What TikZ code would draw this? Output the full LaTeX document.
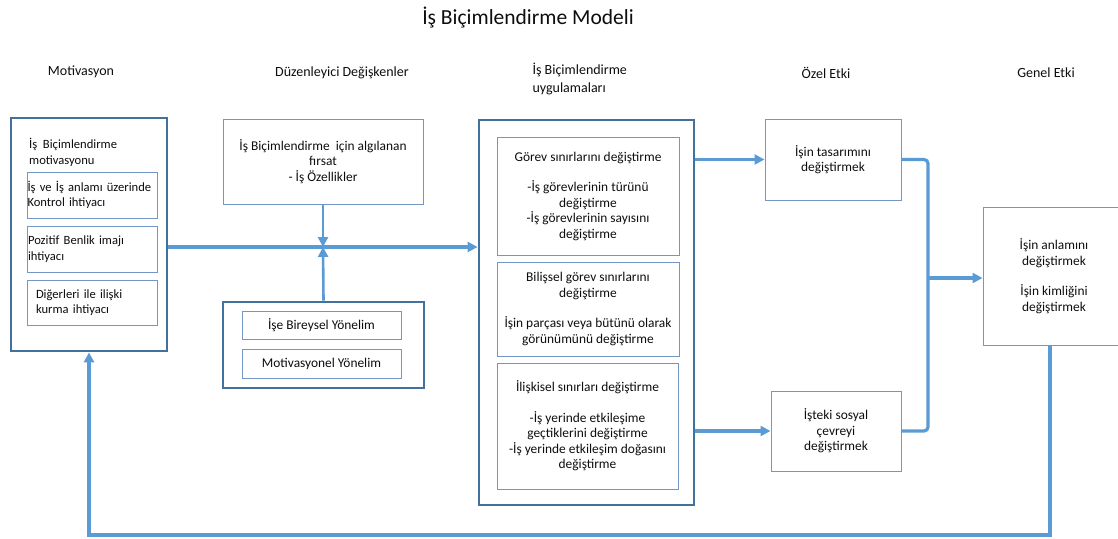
\documentclass[tikz,border=0pt]{standalone}
\usepackage{fontspec}
\setmainfont{Carlito}
\usetikzlibrary{arrows.meta}
\definecolor{boxdark}{HTML}{41719C}
\definecolor{boxlight}{HTML}{7497C8}
\definecolor{linkblue}{HTML}{5B9BD5}
\definecolor{ink}{HTML}{0D0D0D}
\begin{document}
\begin{tikzpicture}[x=1pt,y=-1pt,
  txt/.style={font=\fontsize{13.4}{15.5}\selectfont, text=ink, align=center},
  smalltxt/.style={font=\fontsize{12.6}{15.5}\selectfont, text=ink},
  heading/.style={font=\fontsize{14}{18}\selectfont, text=ink},
  thickbox/.style={draw=boxdark, line width=2.8pt, inner sep=0pt},
  thinbox/.style={draw=boxlight, line width=1pt, inner sep=0pt, txt},
  needbox/.style={thinbox, smalltxt, minimum width=130, align=left},
  conn/.style={draw=linkblue, line width=3.2pt},
  tip/.style={-{Triangle[length=10pt,width=10pt]}}]
\useasboundingbox (0,0) rectangle (1118,538);

% title and column headings
\node[font=\fontsize{21.5}{24}\selectfont, text=ink] (title) at (528,18) {İş Biçimlendirme Modeli};
\node[heading] (hmot) at (81,72) {Motivasyon};
\node[heading] (hmod) at (342,73) {Düzenleyici Değişkenler};
\node[heading, anchor=west, align=left] (happ) at (529,79) {İş Biçimlendirme\\uygulamaları};
\node[heading] (hspec) at (826,73) {Özel Etki};
\node[heading] (hgen) at (1046,73) {Genel Etki};

% motivation column
\node[thickbox, minimum width=156, minimum height=233] (mot) at (89,234.5) {};
\node[smalltxt, align=left, anchor=west, inner sep=0pt] (motlabel) at (29,152.5) {İş\ \ Biçimlendirme\\motivasyonu};
\node[needbox, minimum height=46, text width=129] (need1) at (92,195) {İş ve İş anlamı üzerinde\\Kontrol ihtiyacı};
\node[needbox, minimum height=46, text width=128] (need2) at (92,249) {Pozitif Benlik imajı\\ihtiyacı};
\node[needbox, minimum height=45, text width=112] (need3) at (92,302.5) {Diğerleri ile ilişki\\kurma ihtiyacı};

% moderators
\node[thinbox, minimum width=200, minimum height=85] (opp) at (323,161.5) {İş Biçimlendirme\ \ için algılanan\\fırsat\\- İş Özellikler};
\node[thickbox, minimum width=201, minimum height=86] (orient) at (323.5,345) {};
\node[thinbox, minimum width=159, minimum height=28] (indiv) at (321.5,325) {İşe Bireysel Yönelim};
\node[thinbox, minimum width=159, minimum height=29] (motor) at (321.5,363.5) {Motivasyonel Yönelim};

% crafting practices
\node[thickbox, minimum width=215, minimum height=385] (apps) at (586.5,312.5) {};
\node[thinbox, minimum width=182, minimum height=118] (taskb) at (588,196) {Görev sınırlarını değiştirme\\[15pt]-İş görevlerinin türünü\\değiştirme\\-İş görevlerinin sayısını\\değiştirme};
\node[thinbox, minimum width=182, minimum height=94] (cogb) at (588,309) {Bilişsel görev sınırlarını\\değiştirme\\[15pt]İşin parçası veya bütünü olarak\\görünümünü değiştirme};
\node[thinbox, minimum width=181, minimum height=126] (relb) at (587.5,426) {İlişkisel sınırları değiştirme\\[15pt]-İş yerinde etkileşime\\geçtiklerini değiştirme\\-İş yerinde etkileşim doğasını\\değiştirme};

% specific and general effects
\node[thinbox, minimum width=136, minimum height=81] (design) at (833,159.5) {İşin tasarımını\\değiştirmek};
\node[thinbox, minimum width=130, minimum height=80] (social) at (836,431) {İşteki sosyal\\çevreyi\\değiştirmek};
\node[thinbox, minimum width=142, minimum height=138] (general) at (1054,276) {İşin anlamını\\değiştirmek\\[15pt]İşin kimliğini\\değiştirmek};

% junctions
\coordinate (junction) at (323,247);
\coordinate (merge) at (928,278);
\coordinate (feedback) at (1050,535);

% connectors
\draw[conn, tip] (mot.east |- junction) -- (apps.west |- junction);
\draw[conn, line width=2.6pt, tip] (opp.south) -- (junction);
\draw[conn, line width=2.6pt, tip] (orient.north) -- (junction);
\draw[conn, tip] (apps.east |- design) -- (design.west);
\draw[conn, tip] (apps.east |- social) -- (social.west);
\draw[conn, rounded corners=4pt] (design.east) -| (merge) |- (social.east);
\draw[conn, tip] (merge) -- (general.west |- merge);
\draw[conn, tip] (general.south -| feedback) -- (feedback) -| (mot.south);
\end{tikzpicture}
\end{document}
